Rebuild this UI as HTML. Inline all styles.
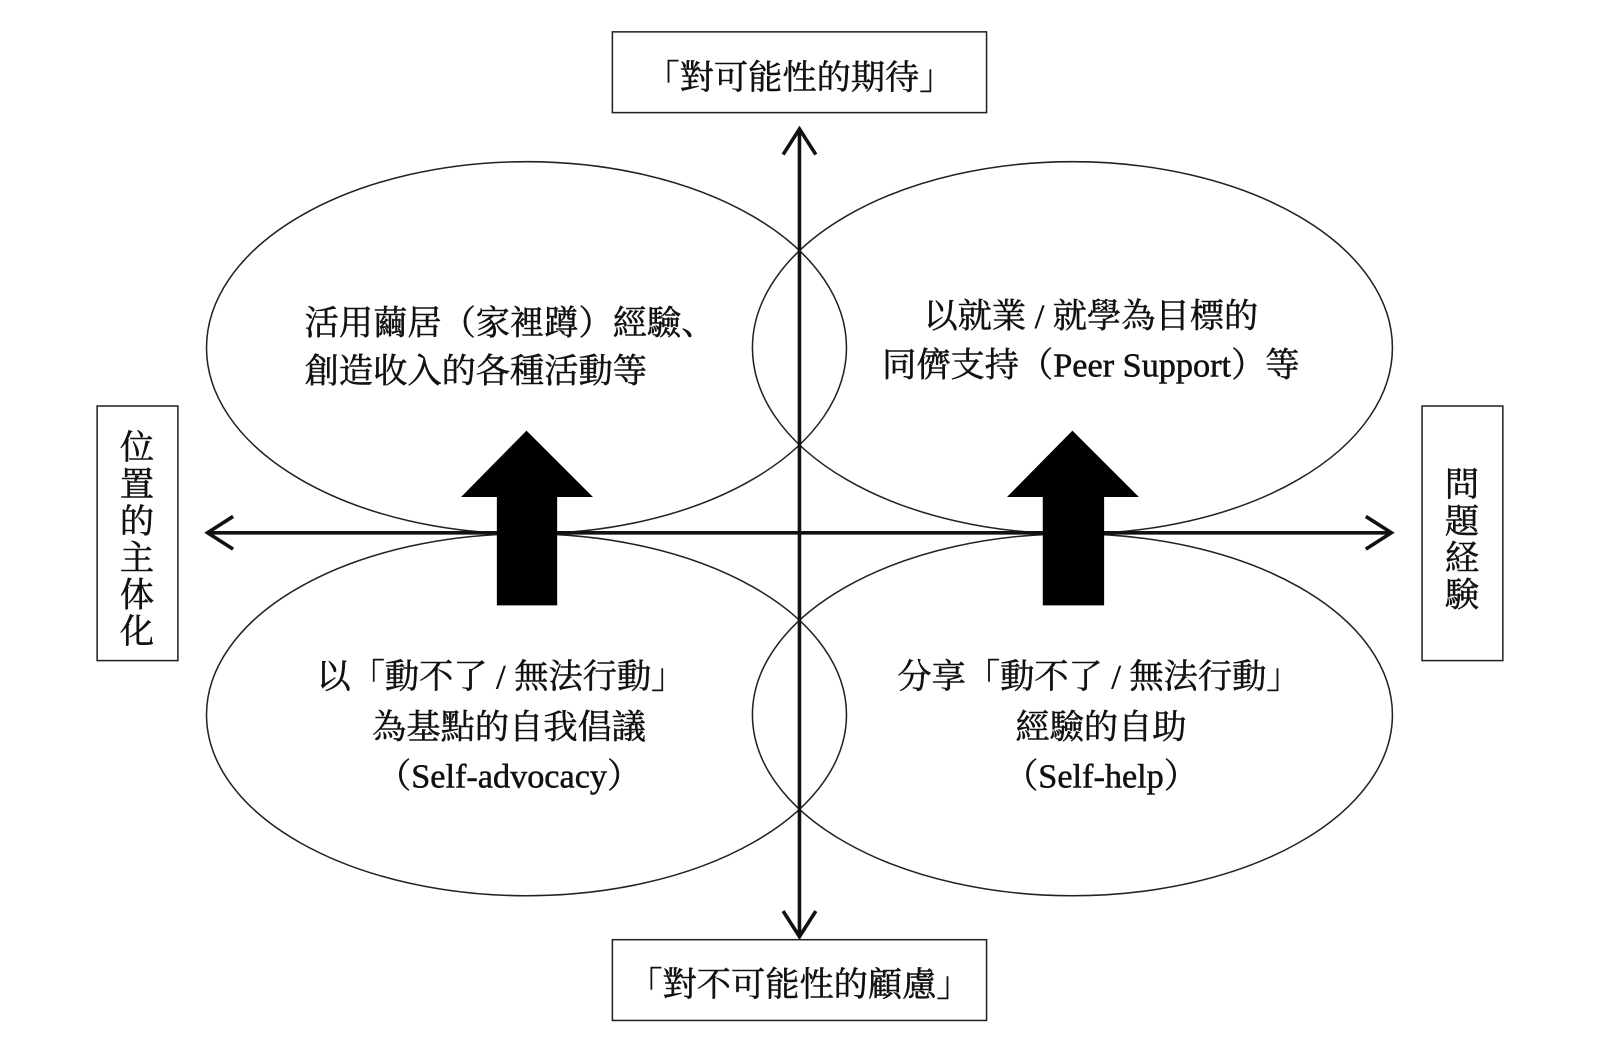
<!DOCTYPE html>
<html><head><meta charset="utf-8"><style>
html,body{margin:0;padding:0;background:#fff;width:1602px;height:1038px;overflow:hidden}
svg text{font-family:"Liberation Serif","Noto Serif CJK SC","Noto Sans CJK TC",serif;font-size:33.5px;fill:#111;stroke:#111;stroke-width:0.5}
</style></head><body>
<svg width="1602" height="1038" viewBox="0 0 1567 1015" xmlns="http://www.w3.org/2000/svg">
<g fill="none" stroke="#222" stroke-width="1.5">
<ellipse cx="515" cy="340" rx="313" ry="182"/>
<ellipse cx="1049" cy="340" rx="313" ry="182"/>
<ellipse cx="515" cy="699" rx="313" ry="177"/>
<ellipse cx="1049" cy="699" rx="313" ry="177"/>
<rect x="599" y="31" width="366" height="79"/>
<rect x="599" y="919" width="366" height="79"/>
<rect x="95" y="397" width="79" height="249"/>
<rect x="1391" y="397" width="79" height="249"/>
</g>
<g fill="none" stroke="#111" stroke-width="3.5">
<line x1="782" y1="126" x2="782" y2="916"/>
<line x1="203" y1="521" x2="1361" y2="521"/>
<polyline points="766,151 782,126 798,151"/>
<polyline points="766,891 782,916 798,891"/>
<polyline points="228,505 203,521 228,537"/>
<polyline points="1336,505 1361,521 1336,537"/>
</g>
<polygon fill="#000" points="515,421 580,486 545,486 545,592 486,592 486,486 451,486"/>
<polygon fill="#000" points="1049,421 1114,486 1080,486 1080,592 1020,592 1020,486 985,486"/>
<text x="782" y="87" text-anchor="middle">「對可能性的期待」</text>
<text x="782" y="974" text-anchor="middle">「對不可能性的顧慮」</text>
<text x="298" y="327">活用繭居（家裡蹲）經驗、</text>
<text x="298" y="374">創造收入的各種活動等</text>
<text x="1067" y="320" text-anchor="middle">以就業 / 就學為目標的</text>
<text x="1067" y="368" text-anchor="middle">同儕支持（Peer Support）等</text>
<text x="490" y="673" text-anchor="middle">以「動不了 / 無法行動」</text>
<text x="498" y="722" text-anchor="middle">為基點的自我倡議</text>
<text x="498" y="770" text-anchor="middle">（Self-advocacy）</text>
<text x="1075" y="673" text-anchor="middle">分享「動不了 / 無法行動」</text>
<text x="1077" y="722" text-anchor="middle">經驗的自助</text>
<text x="1077" y="770" text-anchor="middle">（Self-help）</text>
<g text-anchor="middle">
<text x="134" y="449">位</text><text x="134" y="485">置</text><text x="134" y="521">的</text><text x="134" y="557">主</text><text x="134" y="593">体</text><text x="134" y="629">化</text>
<text x="1430" y="485">問</text><text x="1430" y="521">題</text><text x="1430" y="557">経</text><text x="1430" y="593">験</text>
</g>
</svg>
</body></html>
